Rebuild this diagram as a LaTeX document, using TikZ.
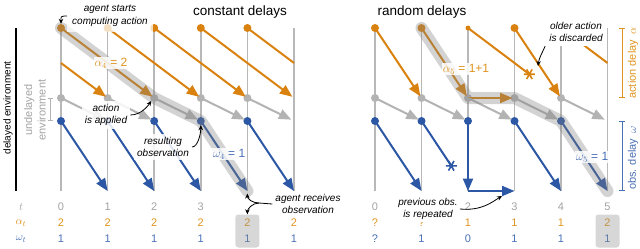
\documentclass[tikz,border=0pt]{standalone}
\usepackage{fontspec}
\setmainfont{Liberation Sans}
\usetikzlibrary{arrows.meta,calc}
\definecolor{orng}{HTML}{D9820F}
\definecolor{blu}{HTML}{2C57A5}
\definecolor{gln}{HTML}{B8B8B8}
\definecolor{gar}{HTML}{B3B3B3}
\definecolor{torng}{HTML}{E0941F}
\definecolor{tblu}{HTML}{4A70B5}
\definecolor{tgray}{HTML}{A3A3A3}
\begin{document}
\begin{tikzpicture}[x=1pt,y=-1pt,
  vline/.style={gln,line width=1.5pt},
  arrtip/.style={-{Triangle[length=12.5pt,width=10pt]}},
  oarr/.style={orng,line width=2pt,arrtip,shorten >=2pt},
  garr/.style={gar,line width=2pt,arrtip,shorten >=3pt},
  barr/.style={blu,line width=2pt,arrtip},
  dotn/.style={circle,inner sep=0pt,minimum size=8pt},
  odot/.style={dotn,fill=orng},
  gdot/.style={dotn,fill=gar},
  bdot/.style={dotn,fill=blu},
  hlband/.style={line width=12pt,black!50,opacity=0.35,line cap=round,line join=round},
  hlab/.style={fill=white,fill opacity=0.85,text opacity=1,inner sep=1pt,font=\fontsize{12}{14}\selectfont},
  numtxt/.style={font=\fontsize{11}{13}\selectfont},
  annot/.style={font=\itshape\fontsize{10}{12.5}\selectfont,align=center,fill=white,fill opacity=0.85,text opacity=1,inner sep=3pt},
  annarr/.style={black,line width=0.8pt,-{Stealth[length=5pt,width=4.5pt]}},
  sidel/.style={rotate=90,font=\fontsize{11}{13}\selectfont},
  nbox/.style={rounded corners=3pt,fill=black!45,opacity=0.35,minimum width=24pt,minimum height=33pt,inner sep=0pt},
  astk/.style={line width=1.6pt}
]
\useasboundingbox (0,0) rectangle (640,249);

% grid coordinates
\foreach \i in {0,...,5}{
  \pgfmathsetmacro\xl{61+46.6*\i}
  \pgfmathsetmacro\xr{375+46.5*\i}
  \coordinate (Lt\i) at (\xl,28);
  \coordinate (Lm\i) at (\xl,63);
  \coordinate (Lg\i) at (\xl,98);
  \coordinate (Lb\i) at (\xl,121);
  \coordinate (Ld\i) at (\xl,191);
  \coordinate (Rt\i) at (\xr,28);
  \coordinate (Rm\i) at (\xr,63);
  \coordinate (Rg\i) at (\xr,98);
  \coordinate (Rb\i) at (\xr,121);
  \coordinate (Rd\i) at (\xr,191);
}

% vertical time lines
\foreach \i in {0,...,5}{
  \draw[vline] (Lt\i) -- (Ld\i);
  \draw[vline] (Rt\i) -- (Rd\i);
}

% dots
\foreach \i in {0,...,4}{
  \node[odot] (LO\i) at (Lt\i) {};
  \node[gdot] (LG\i) at (Lg\i) {};
  \node[bdot] (LB\i) at (Lb\i) {};
  \node[gdot] (RG\i) at (Rg\i) {};
  \node[bdot] (RB\i) at (Rb\i) {};
}
\foreach \i in {0,1,3,4}{\node[odot] (RO\i) at (Rt\i) {};}
\node[dotn,fill=orng,minimum size=5pt] (RO2) at (Rt2) {};

% left panel: constant delays
\draw[oarr] (Lm0) -- (Lg1);
\foreach \i/\j in {0/2,1/3,2/4,3/5}{\draw[oarr] (Lt\i) -- (Lg\j);}
\draw[orng,line width=2pt] (Lt4) -- (Lm5);
\foreach \i/\j in {0/1,1/2,2/3,3/4,4/5}{
  \draw[garr] (Lg\i) -- (Lb\j);
  \draw[barr] (Lb\i) -- (Ld\j);
}

% right panel: random delays
\draw[oarr] (Rt0) -- (Rg1);
\draw[oarr] (Rt1) -- (Rg2);
\draw[oarr] (Rg2) -- (Rg3);
\coordinate (Xo) at ($(Rt2)!0.66!(Rg4)$);
\draw[orng,line width=2pt] (Rt2) -- (Xo);
\draw[oarr] (Rt3) -- (Rg4);
\draw[orng,line width=2pt] (Rt4) -- (Rm5);
\foreach \i/\j in {0/1,1/2,2/3,3/4,4/5}{\draw[garr] (Rg\i) -- (Rb\j);}
\draw[barr] (Rb0) -- (Rd1);
\coordinate (Xb) at ($(Rb1)!0.64!(Rd2)$);
\draw[blu,line width=2pt] (Rb1) -- (Xb);
\draw[barr] (Rb2) -- (Rd2);
\draw[barr] (Rd2) -- (Rd3);
\draw[barr] (Rb3) -- (Rd4);
\draw[barr] (Rb4) -- (Rd5);

% asterisks (discarded)
\draw[astk,orng] ([shift={(-5.5,0)}]Xo) -- ([shift={(5.5,0)}]Xo)
  ([shift={(-2.75,-4.8)}]Xo) -- ([shift={(2.75,4.8)}]Xo)
  ([shift={(2.75,-4.8)}]Xo) -- ([shift={(-2.75,4.8)}]Xo);
\draw[astk,blu] ([shift={(-5.5,0)}]Xb) -- ([shift={(5.5,0)}]Xb)
  ([shift={(-2.75,-4.8)}]Xb) -- ([shift={(2.75,4.8)}]Xb)
  ([shift={(2.75,-4.8)}]Xb) -- ([shift={(-2.75,4.8)}]Xb);

% highlighted paths
\draw[hlband] (Lt0) -- (Lg2) -- (Lb3) -- (Ld4);
\draw[hlband] (Rt1) -- (Rg2) -- (Rg3) -- (Rb4) -- (Rd5);

\node[hlab,text=torng] (a4) at (111,63) {$\alpha_4$ = 2};
\node[hlab,text=tblu] (w4) at (229,154) {$\omega_4$ = 1};
\node[hlab,text=torng] (a5) at (466,69) {$\alpha_5$ = 1+1};
\node[hlab,text=tblu] (w5) at (592,157) {$\omega_5$ = 1};

% titles
\node[font=\fontsize{13.5}{16}\selectfont,anchor=base] (t1) at (240,15) {constant delays};
\node[font=\fontsize{13.5}{16}\selectfont,anchor=base] (t2) at (422,15) {random delays};

% row labels and values
\node[numtxt,text=tgray] (rt) at (21,207) {$t$};
\node[numtxt,text=torng] (ra) at (21,223) {$\alpha_t$};
\node[numtxt,text=tblu] (rw) at (21,239) {$\omega_t$};

\foreach \v [count=\i from 0] in {0,1,2,3}{\node[numtxt,text=tgray] (Ltn\i) at (Ld\i |- rt) {\v};}
\foreach \v [count=\i from 0] in {2,2,2,2,2,2}{\node[numtxt,text=torng] (Lan\i) at (Ld\i |- ra) {\v};}
\foreach \v [count=\i from 0] in {1,1,1,1,1,1}{\node[numtxt,text=tblu] (Lwn\i) at (Ld\i |- rw) {\v};}
\foreach \v/\i in {0/0,2/2,3/3,4/4,5/5}{\node[numtxt,text=tgray] (Rtn\i) at (Rd\i |- rt) {\v};}
\foreach \v [count=\i from 0] in {?,?,1,1,1,2}{\node[numtxt,text=torng] (Ran\i) at (Rd\i |- ra) {\v};}
\foreach \v [count=\i from 0] in {?,1,0,1,1,1}{\node[numtxt,text=tblu] (Rwn\i) at (Rd\i |- rw) {\v};}

\node[nbox] (Lbox) at ($(Ld4 |- ra)!0.5!(Ld4 |- rw)$) {};
\node[nbox] (Rbox) at ($(Rd5 |- ra)!0.5!(Rd5 |- rw)$) {};

% annotations
\node[annot,fill opacity=0.75,inner sep=5pt] (ann1) at (110,16) {agent starts\\computing action};
\draw[annarr] (ann1.west) .. controls +(-7,0) and +(0,-7) .. (LO0.north);

\node[annot] (ann2) at (106,115) {action\\is applied};
\draw[annarr] (ann2.east) .. controls +(10,0) and +(-4,6) .. (LG2.south west);

\node[annot] (ann3) at (163,147) {resulting\\observation};
\draw[annarr] (ann3.east) .. controls +(6,0) and +(0,8) .. (LB3.south);

\node[annot] (ann4) at (308,204) {agent receives\\observation};
\coordinate (rcv) at (259,203);
\coordinate (rtip) at ($(Ld4)+(0,2.5)$);
\draw[black,line width=0.8pt] (ann4.west) -- (rcv);
\draw[annarr] (rcv) .. controls +(-7,0) and +(0,5) .. (rtip);
\draw[annarr] (rcv) .. controls +(-7,0) and +(0,-5) .. (Lbox.north);

\node[annot,fill opacity=1,inner sep=4pt] (ann5) at (576,32) {older action\\is discarded};
\coordinate (dtg) at (538,66);
\draw[annarr] (ann5.south west) .. controls +(-3,7) and +(1,-8) .. (dtg);

\node[annot,fill opacity=1,inner sep=2pt] (ann6) at (428,209) {previous obs.\\is repeated};
\coordinate (rtg) at (502,196);
\draw[annarr] (ann6.east) .. controls +(22,2) and +(-10,6) .. (rtg);

% side labels
\node[sidel,font=\fontsize{10}{12}\selectfont] (de) at (8,108) {delayed environment};
\coordinate (db1) at (16,28);
\coordinate (db2) at (16,191);
\draw[black,line width=1.2pt] (db1) -- (db2);

\node[sidel,text=tgray,align=center,font=\fontsize{11}{13.5}\selectfont] (ue) at (35,110) {undelayed\\environment};
\coordinate (ub1) at (50,98);
\coordinate (ub2) at (50,121);
\draw[gar,line width=1pt,{Bar[width=5pt]}-{Bar[width=5pt]}] (ub1) -- (ub2);

\coordinate (ab1) at (622,28);
\coordinate (ab2) at (622,98);
\coordinate (ob1) at (622,121);
\coordinate (ob2) at (622,191);
\draw[torng,line width=1pt,{Bar[width=6pt]}-{Bar[width=6pt]}] (ab1) -- (ab2);
\draw[tblu,line width=1pt,{Bar[width=6pt]}-{Bar[width=6pt]}] (ob1) -- (ob2);
\node[sidel,text=torng] (ad) at (633,63) {action delay\enspace$\alpha$};
\node[sidel,text=tblu] (od) at (633,158) {obs. delay\enspace$\omega$};
\end{tikzpicture}
\end{document}
